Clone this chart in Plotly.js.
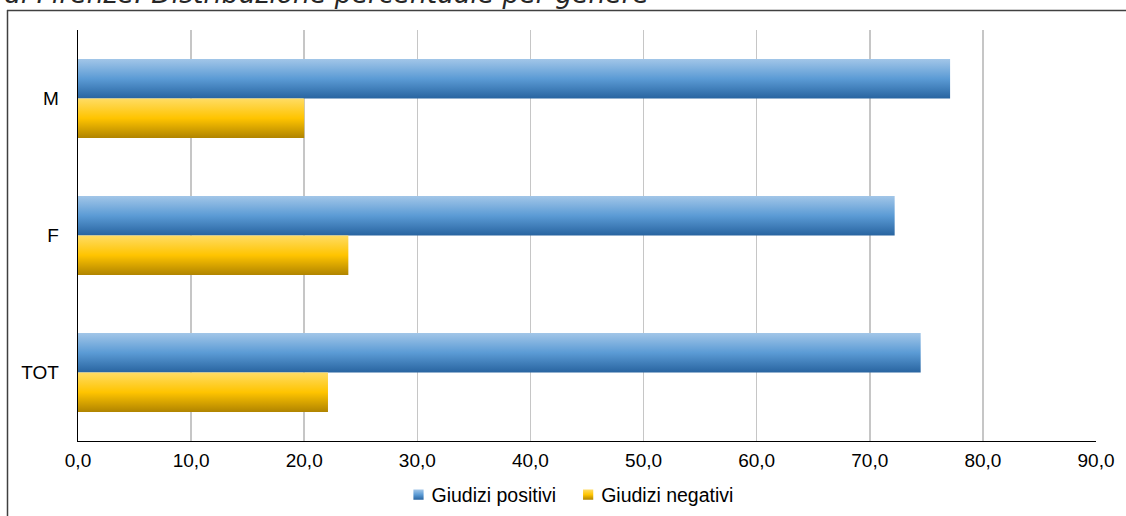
<!DOCTYPE html>
<html>
<head>
<meta charset="utf-8">
<script src="https://cdn.plot.ly/plotly-3.0.1.min.js"></script>
<style>
  html, body { margin: 0; padding: 0; background: #ffffff; overflow: hidden; }
  #chart { width: 1126px; height: 516px; }
</style>
</head>
<body>
<div id="chart"></div>
<script>
// Categories (top to bottom) and the two series, in percent
const categories = ['M', 'F', 'TOT'];
const giudiziPositivi = [77.1, 72.2, 74.5];
const giudiziNegativi = [20.0, 23.9, 22.1];
const seriesNames = ['Giudizi positivi', 'Giudizi negativi'];
const titleText = 'di Firenze: Distribuzione percentuale per genere';

const W = 1126, H = 516;
const M = { l: 78, r: 30, t: 30, b: 75, autoexpand: false };
const plotW = W - M.l - M.r, plotH = H - M.t - M.b;
// pixel -> paper helpers for the outer frame, legend and title
const px = x => (x - M.l) / plotW;
const py = y => (H - M.b - y) / plotH;

const baseFont = { family: 'Liberation Sans, Arial, sans-serif', size: 19, color: '#000000' };

const traces = [
  {
    type: 'bar', orientation: 'h', name: seriesNames[0],
    y: categories, x: giudiziPositivi,
    marker: { color: '#5B9BD5', line: { width: 0 } },
    hoverinfo: 'none'
  },
  {
    type: 'bar', orientation: 'h', name: seriesNames[1],
    y: categories, x: giudiziNegativi,
    marker: { color: '#FFC000', line: { width: 0 } },
    hoverinfo: 'none'
  }
];

const layout = {
  width: W, height: H,
  margin: M,
  paper_bgcolor: '#ffffff', plot_bgcolor: '#ffffff',
  font: baseFont,
  separators: ',.',
  barmode: 'group', bargap: 0.423, bargroupgap: 0,
  showlegend: true,
  legend: {
    orientation: 'h', x: px(565), xanchor: 'center', y: py(495), yanchor: 'middle',
    font: Object.assign({}, baseFont, { size: 19.5 }), itemwidth: 30, traceorder: 'normal'
  },
  xaxis: {
    range: [0, 90], dtick: 10, tick0: 0, tickformat: '.1f',
    showgrid: true, gridcolor: '#C6C6C6', gridwidth: 1.5,
    zeroline: false, showline: true, linecolor: '#000000', linewidth: 1.3,
    ticks: '', ticklabelstandoff: 2, fixedrange: true
  },
  yaxis: {
    type: 'category', autorange: 'reversed',
    showgrid: false, zeroline: false,
    showline: true, linecolor: '#000000', linewidth: 1.3,
    ticks: '', ticklabelstandoff: 14, fixedrange: true
  },
  shapes: [
    // outer chart frame
    { type: 'line', xref: 'paper', yref: 'paper', x0: px(7), x1: px(1140), y0: py(10.5), y1: py(10.5),
      line: { color: '#404040', width: 1.5 } },
    { type: 'line', xref: 'paper', yref: 'paper', x0: px(7.5), x1: px(7.5), y0: py(10), y1: py(530),
      line: { color: '#404040', width: 1.5 } }
  ],
  annotations: [
    { text: titleText, xref: 'paper', yref: 'paper', x: px(2), xanchor: 'left',
      y: py(11), yanchor: 'bottom', showarrow: false,
      font: { family: 'DejaVu Sans, Verdana, sans-serif', size: 26.6, color: '#262626', style: 'italic' } }
  ]
};

// vertical shading of each bar, light on top and dark at the bottom
const gradients = [
  { id: 'gradPos', stops: [['0%', '#A2C6E8'], ['50%', '#5B9BD5'], ['100%', '#2864A0']] },
  { id: 'gradNeg', stops: [['0%', '#FFDC64'], ['50%', '#FFC400'], ['100%', '#B08400']] }
];

function applyGradients(gd) {
  const svg = gd.querySelector('svg.main-svg');
  const NS = 'http://www.w3.org/2000/svg';
  let defs = svg.querySelector('defs');
  if (!defs) { defs = document.createElementNS(NS, 'defs'); svg.insertBefore(defs, svg.firstChild); }
  gradients.forEach(g => {
    const lg = document.createElementNS(NS, 'linearGradient');
    lg.setAttribute('id', g.id);
    lg.setAttribute('x1', '0'); lg.setAttribute('y1', '0');
    lg.setAttribute('x2', '0'); lg.setAttribute('y2', '1');
    g.stops.forEach(([off, col]) => {
      const s = document.createElementNS(NS, 'stop');
      s.setAttribute('offset', off);
      s.setAttribute('stop-color', col);
      lg.appendChild(s);
    });
    defs.appendChild(lg);
  });
  gd.querySelectorAll('.barlayer .trace').forEach((t, i) => {
    t.querySelectorAll('path').forEach(p => { p.style.fill = 'url(#' + gradients[i].id + ')'; });
  });
  // legend swatches: same shading, smaller square set close to its label
  gd.querySelectorAll('.legend .traces').forEach((t, i) => {
    const pts = t.querySelector('.legendpoints');
    if (pts) pts.setAttribute('transform', 'translate(10,0) scale(0.85)');
    t.querySelectorAll('.legendpoints path').forEach(p => { p.style.fill = 'url(#' + gradients[i].id + ')'; });
  });
}

Plotly.newPlot('chart', traces, layout, { staticPlot: true, displayModeBar: false })
  .then(applyGradients);
</script>
</body>
</html>
